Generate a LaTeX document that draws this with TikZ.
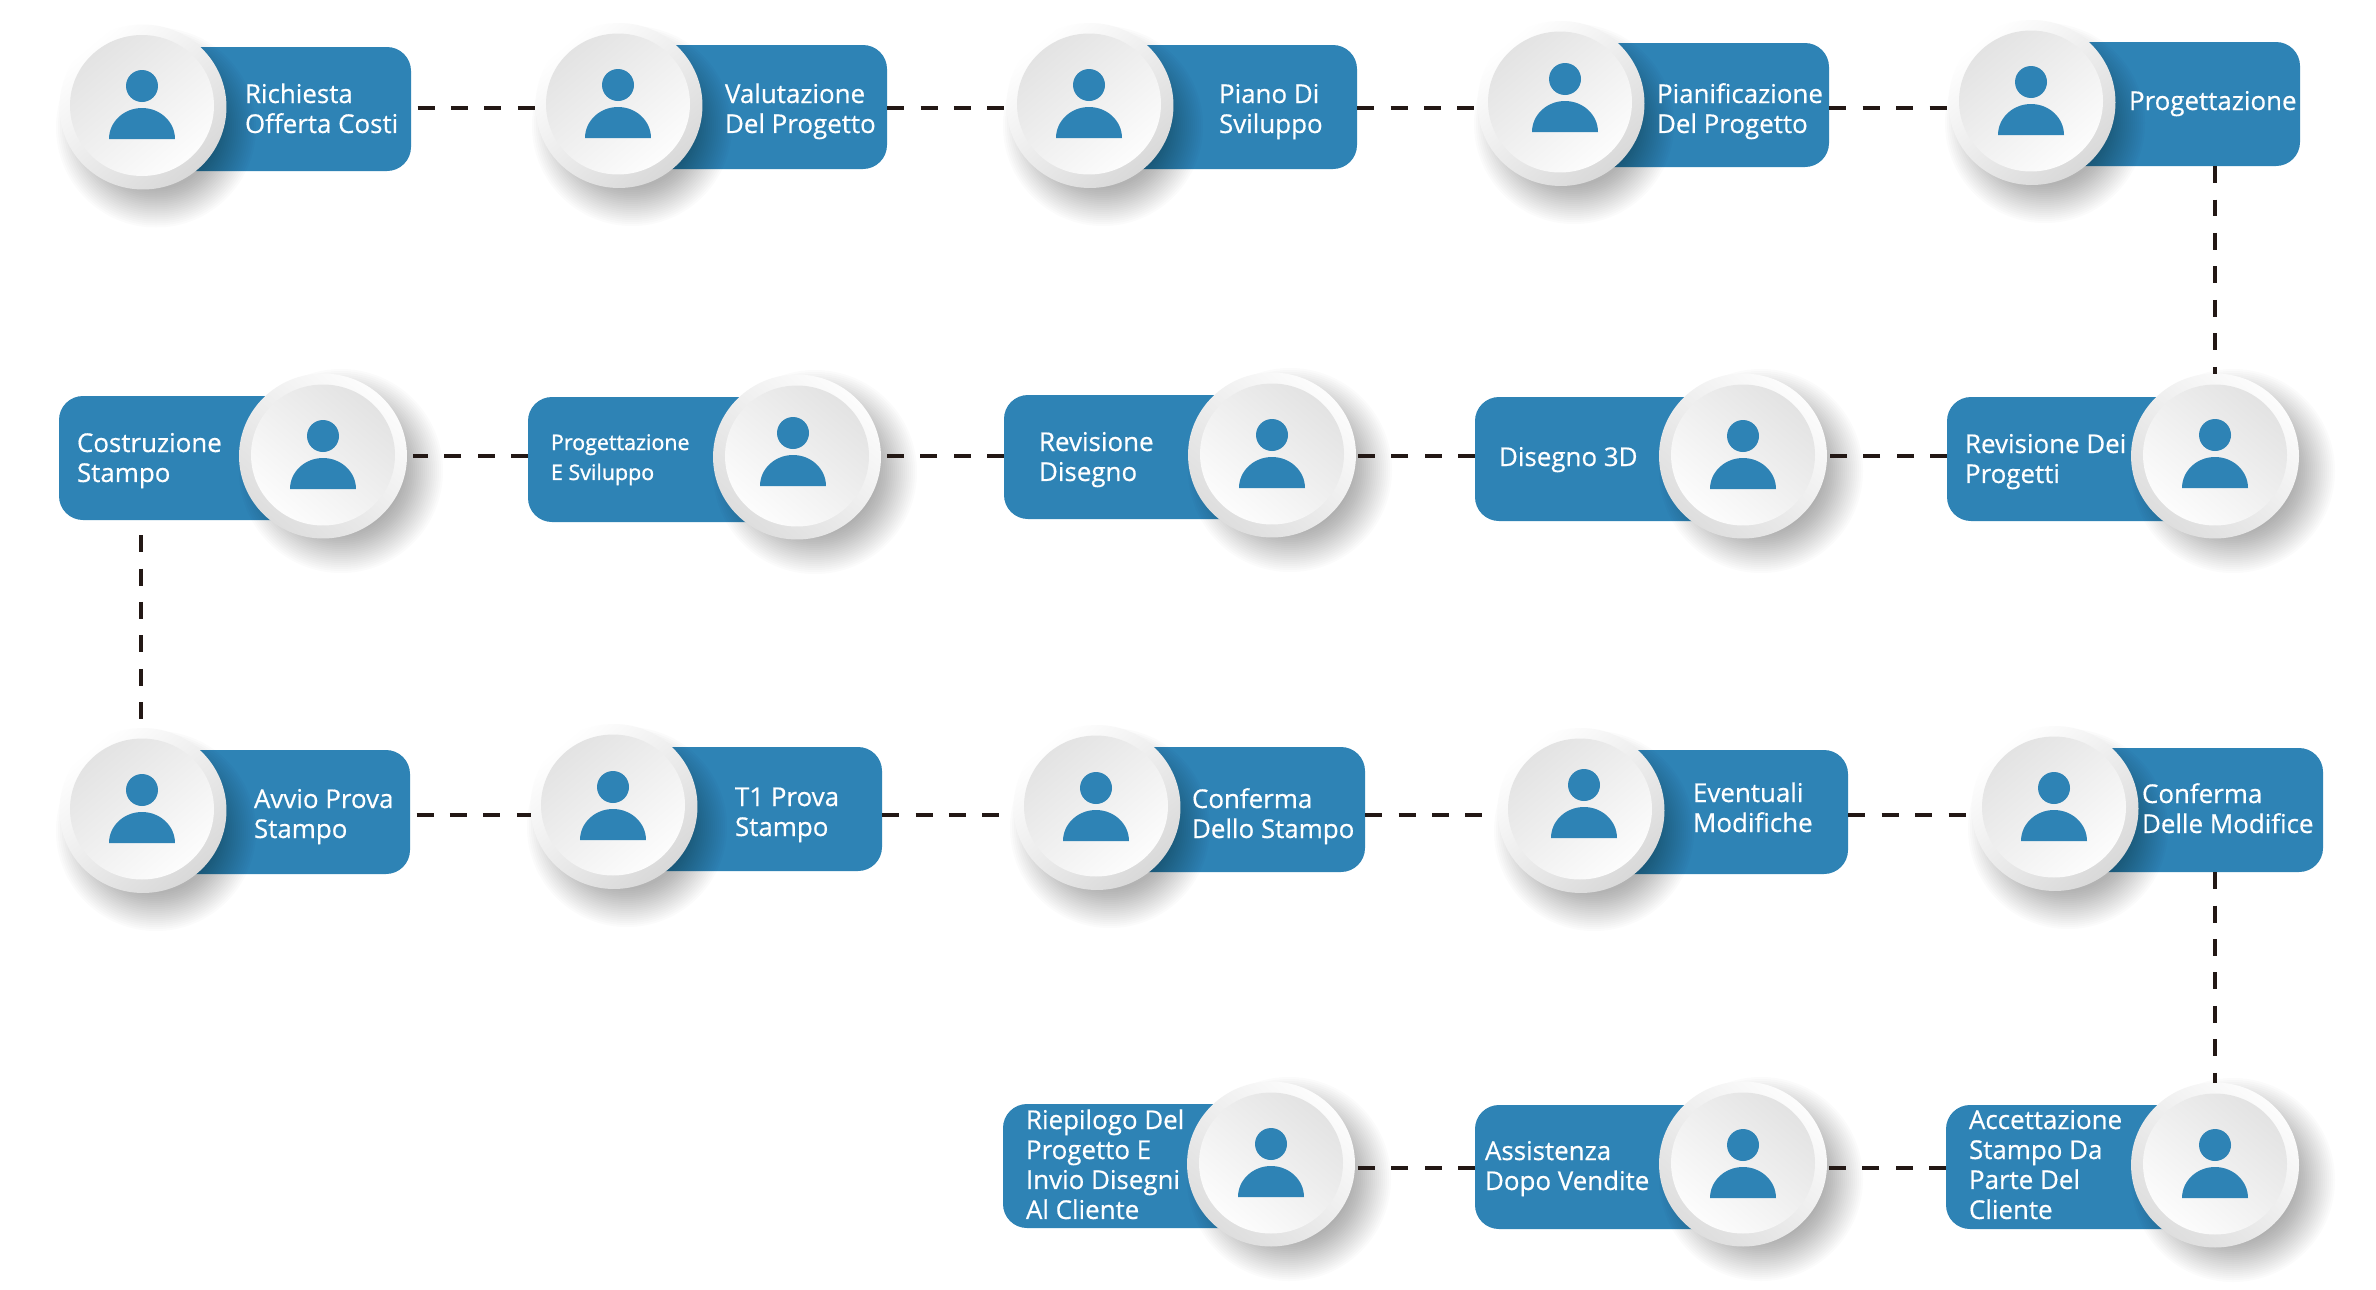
\documentclass[tikz,border=0pt]{standalone}
\usepackage{fontspec}
\setmainfont{Open Sans}
\usetikzlibrary{shapes.geometric}
\definecolor{boxblue}{HTML}{2E83B5}
\definecolor{dashink}{HTML}{231815}
\tikzset{
  x=0.02cm,y=-0.02cm,
  bluebox/.style={rectangle,fill=boxblue,rounded corners=0.48cm,inner sep=0,outer sep=0},
  ringL/.style={ellipse,inner sep=0,outer sep=0,minimum width=3.34cm,minimum height=3.30cm,shade,top color=white,middle color=black!3,bottom color=black!15,shading angle=40},
  ringR/.style={ellipse,inner sep=0,outer sep=0,minimum width=3.36cm,minimum height=3.30cm,shade,top color=black!1,bottom color=black!13,shading angle=-40},
  faceL/.style={ellipse,inner sep=0,outer sep=0,minimum width=2.88cm,minimum height=2.82cm,shade,top color=black!11,bottom color=black!1,shading angle=40},
  faceR/.style={ellipse,inner sep=0,outer sep=0,minimum width=2.88cm,minimum height=2.82cm,shade,top color=black!11,bottom color=black!1,shading angle=-40},
  lab/.style={anchor=north west,inner sep=0,outer sep=0,align=left,text=white,font=\fontsize{14.75}{17.07}\selectfont\addfontfeature{FakeBold=0.5}},
  labsmall/.style={anchor=north west,inner sep=0,outer sep=0,align=left,text=white,font=\fontsize{12.2}{17.07}\selectfont\addfontfeature{FakeBold=1.2}},
  link/.style={draw=dashink,line width=0.08cm,dash pattern=on 0.34cm off 0.33cm},
  gapstart/.style={shorten <=0.13cm},
  gapend/.style={shorten >=0.13cm},
}
\begin{document}
\begin{tikzpicture}
\useasboundingbox (0,0) rectangle (2376,1289);
\fill[white] (0,0) rectangle (2376,1289);
% id / inner x,y / person x, base / box right / box y0,y1 / text x, first baseline / style / text
\foreach \id/\ix/\iy/\px/\bs/\be/\ya/\yb/\tx/\by/\st/\txt in {
 u1/142/105.5/142/139/411/47/171/245/103/lab/{\strut Richiesta\\\strut Offerta Costi},
 u2/618/104/618/138/887/45/169/725/103/lab/{\strut Valutazione\\\strut Del Progetto},
 u3/1089/104/1089/138/1357/45/169/1219/103/lab/{\strut Piano Di\\\strut Sviluppo},
 u4/1560/102/1565/132/1829/43/167/1657/103/lab/{\strut Pianificazione\\\strut Del Progetto},
 u5/2031/101/2031/135/2300/42/166/2129/110/lab/{\strut Progettazione},
 a1/142/809/142/843/410/750/874/254/808/lab/{\strut Avvio Prova\\\strut Stampo},
 a2/613/805/613/840/882/747/871/735/806/lab/{\strut T1 Prova\\\strut Stampo},
 a3/1096/806/1096/841/1365/747/872/1192/808/lab/{\strut Conferma\\\strut Dello Stampo},
 a4/1580/809/1584/838/1848/750/874/1693/802/lab/{\strut Eventuali\\\strut Modifiche},
 a5/2054/807/2054/841/2323/748/872/2142/803/lab/{\strut Conferma\\\strut Delle Modifice}}
{
  \node[bluebox,minimum width={(\be-\ix)*0.02cm},minimum height={(\yb-\ya)*0.02cm}] (b\id) at ({(\ix+\be)/2},{(\ya+\yb)/2}) {};
  \foreach \r in {62,64,...,100} \fill[black,opacity=0.016] ({\ix+14},{\iy+22}) circle[radius={\r*0.02cm}];
  \node[ringL] (c\id) at ({\ix+1},{\iy+1.5}) {};
  \node[faceL] (f\id) at (\ix,\iy) {};
  \fill[boxblue] (\px,{\bs-53}) circle[radius=0.32cm];
  \fill[boxblue] ({\px-33},\bs) arc[start angle=180,end angle=0,x radius=0.66cm,y radius=0.62cm] -- cycle;
  \node[\st] (t\id) at (\tx,{\by-21}) {\txt};
}
% right-hand circles
\foreach \id/\ix/\iy/\px/\bs/\be/\ya/\yb/\tx/\by/\st/\txt in {
 r1/323/455/323/489/59/396/520/77/452/lab/{\strut Costruzione\\\strut Stampo},
 r2/797/456/793/486/528/397/522/551/450/labsmall/{\strut Progettazione\\\strut E Sviluppo},
 r3/1272/454/1272/488/1004/395/519/1039/451/lab/{\strut Revisione\\\strut Disegno},
 r4/1743/455/1743/489/1475/397/521/1499/466/lab/{\strut Disegno 3D},
 r5/2215/455/2215/488/1947/397/521/1965/453/lab/{\strut Revisione Dei\\\strut Progetti},
 l1/1271/1163/1271/1197/1003/1104/1228/1026/1129/lab/{\strut Riepilogo Del\\\strut Progetto E\\\strut Invio Disegni\\\strut Al Cliente},
 l2/1743/1163/1743/1198/1475/1105/1229/1485/1160/lab/{\strut Assistenza\\\strut Dopo Vendite},
 l3/2215/1164/2215/1198/1946/1105/1229/1969/1129/lab/{\strut Accettazione\\\strut Stampo Da\\\strut Parte Del\\\strut Cliente}}
{
  \node[bluebox,minimum width={(\ix-\be)*0.02cm},minimum height={(\yb-\ya)*0.02cm}] (b\id) at ({(\ix+\be)/2},{(\ya+\yb)/2}) {};
  \foreach \r in {62,64,...,102} \fill[black,opacity=0.016] ({\ix+18},{\iy+16}) circle[radius={\r*0.02cm}];
  \node[ringR] (c\id) at (\ix,{\iy+1}) {};
  \node[faceR] (f\id) at (\ix,\iy) {};
  \fill[boxblue] (\px,{\bs-53}) circle[radius=0.32cm];
  \fill[boxblue] ({\px-33},\bs) arc[start angle=180,end angle=0,x radius=0.66cm,y radius=0.62cm] -- cycle;
  \node[\st] (t\id) at (\tx,{\by-21}) {\txt};
}
\coordinate (row1) at (0,108);
\coordinate (row2) at (0,456);
\coordinate (row3) at (0,815);
\coordinate (row4) at (0,1168);
\coordinate (colA) at (141,0);
\coordinate (colB) at (2215,0);
\coordinate (colBtop) at (0,535);
\draw[link,gapstart] (bu1.east |- row1) -- (cu2.west |- row1);
\draw[link] (bu2.east |- row1) -- (cu3.west |- row1);
\draw[link] (bu3.east |- row1) -- (cu4.west |- row1);
\draw[link] (bu4.east |- row1) -- (cu5.west |- row1);
\draw[link] (bu5.south -| colB) -- (cr5.north -| colB);
\draw[link] (br5.west |- row2) -- (cr4.east |- row2);
\draw[link] (br4.west |- row2) -- (cr3.east |- row2);
\draw[link] (br3.west |- row2) -- (cr2.east |- row2);
\draw[link,gapend] (br2.west |- row2) -- (cr1.east |- row2);
\draw[link] (colA |- colBtop) -- (ca1.north -| colA);
\draw[link,gapstart] (ba1.east |- row3) -- (ca2.west |- row3);
\draw[link] (ba2.east |- row3) -- (ca3.west |- row3);
\draw[link] (ba3.east |- row3) -- (ca4.west |- row3);
\draw[link] (ba4.east |- row3) -- (ca5.west |- row3);
\draw[link] (ba5.south -| colB) -- (cl3.north -| colB);
\draw[link] (bl3.west |- row4) -- (cl2.east |- row4);
\draw[link] (bl2.west |- row4) -- (cl1.east |- row4);
\end{tikzpicture}
\end{document}
